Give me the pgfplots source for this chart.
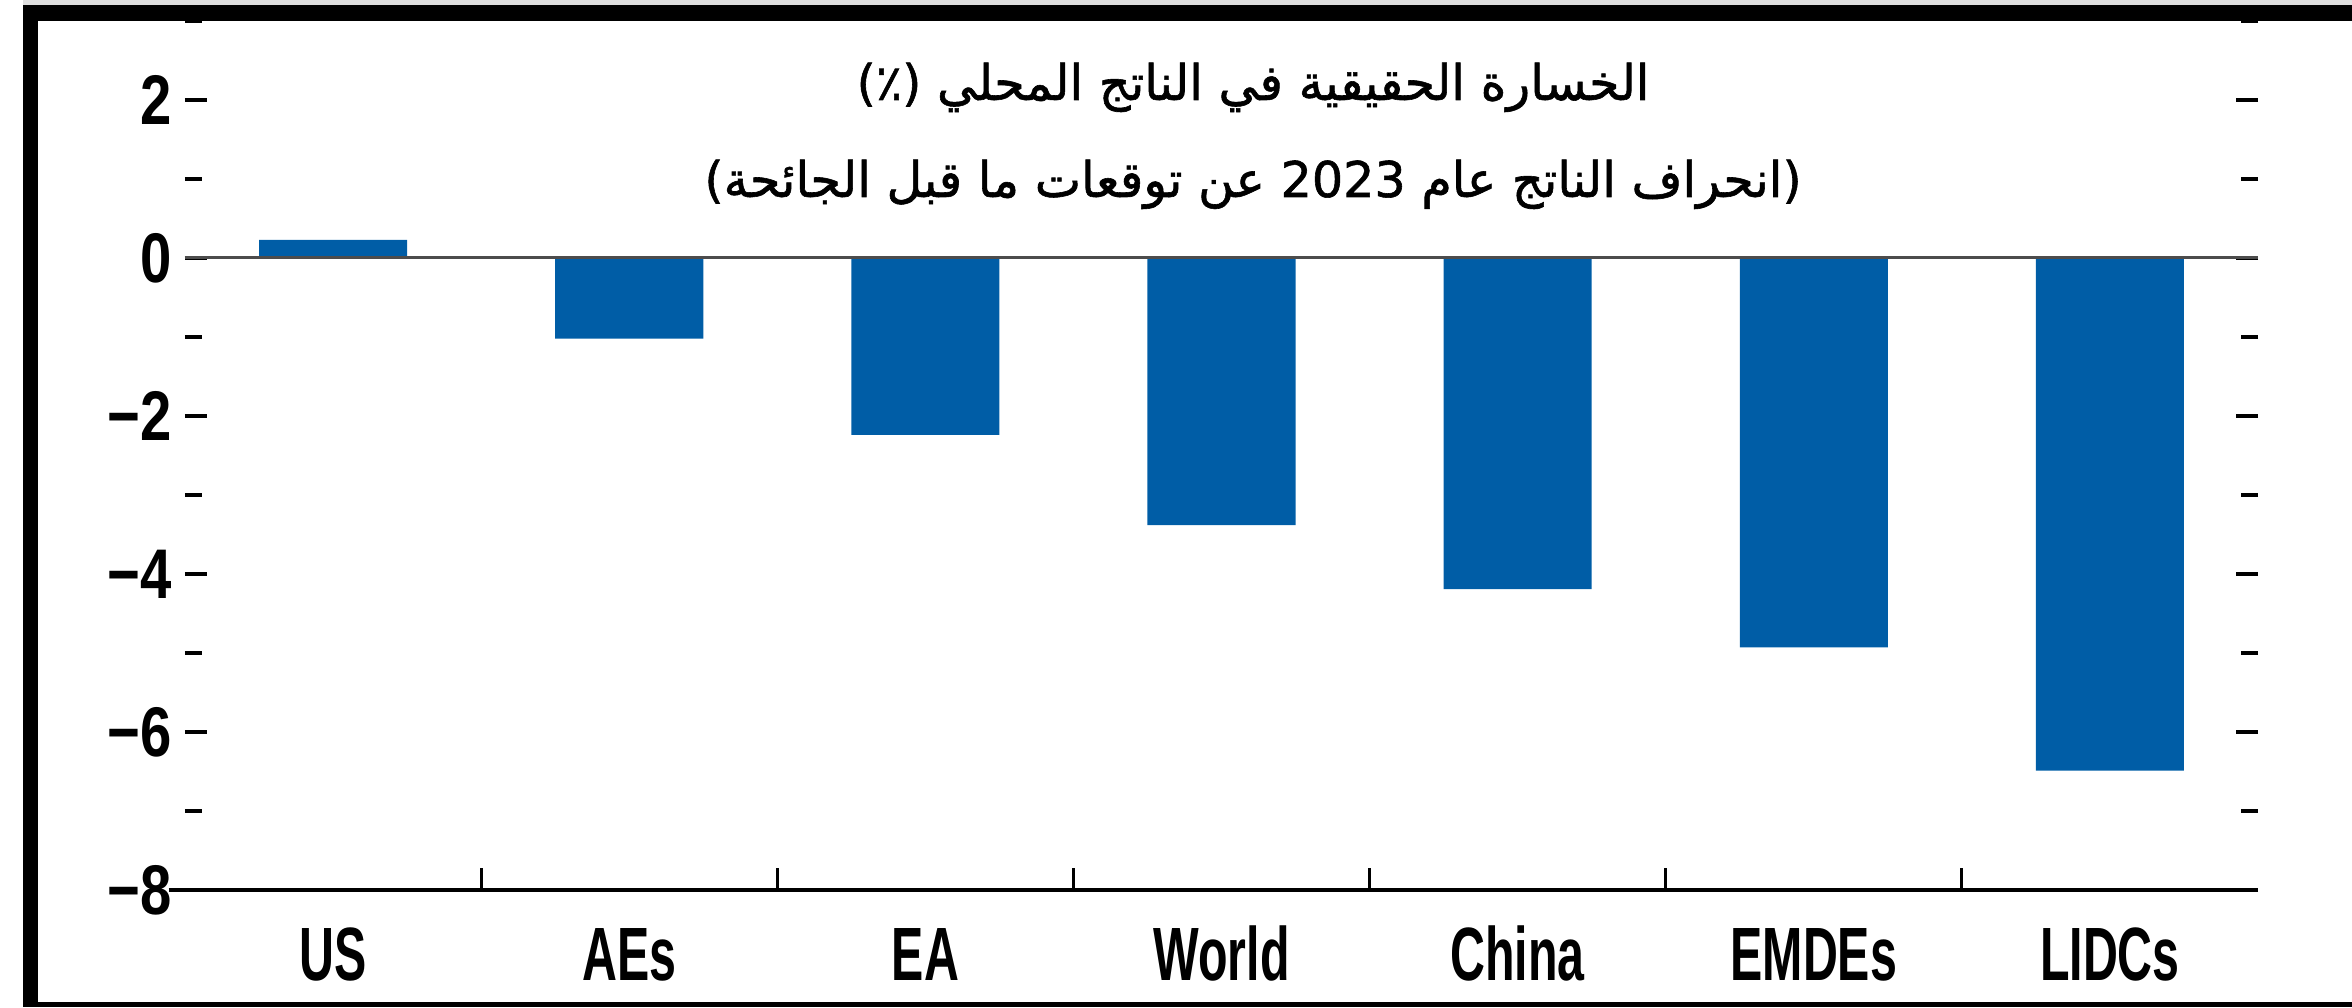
\documentclass[border=0pt]{standalone}
\usepackage{pgfplots}
\pgfplotsset{compat=1.18}
\usepackage{fontspec}
\setmainfont{Liberation Sans}
\newfontfamily\xlabfont{Liberation Sans Bold}[FakeStretch=0.64]
\newfontfamily\ylabfont{Liberation Sans Bold}[FakeStretch=0.8]
\newfontfamily\arabicfont[Script=Arabic, FakeBold=1.2]{DejaVu Sans}
\TeXXeTstate=1
\definecolor{barblue}{RGB}{0,93,166}

\begin{document}
\begin{tikzpicture}
\useasboundingbox (0,0) rectangle (23.52,10.07);
\begin{axis}[
  at={(1.85cm,1.17cm)}, anchor=south west,
  scale only axis, width=20.73cm, height=8.69cm,
  xmin=-0.5, xmax=6.5, ymin=-8, ymax=3,
  axis line style={draw=none},
  tick align=inside,
  xtick pos=left, ytick pos=both,
  xtick={0.5,1.5,2.5,3.5,4.5,5.5}, xticklabels={},
  extra x ticks={0,1,2,3,4,5,6},
  extra x tick labels={US,AEs,EA,World,China,EMDEs,LIDCs},
  extra x tick style={major tick length=0pt, tick style={draw=none}},
  ytick={-8,-6,-4,-2,0,2},
  yticklabels={−8,−6,−4,−2,0,2},
  minor ytick={-7,-5,-3,-1,1,3},
  major tick length=0.22cm, minor tick length=0.17cm,
  every major x tick/.append style={line width=0.8pt, black},
  every major y tick/.append style={line width=1.4pt, black},
  every minor y tick/.append style={line width=1.4pt, black},
  x tick label style={font=\fontsize{21.5}{22}\xlabfont, anchor=base, yshift=-0.9cm, inner sep=0pt},
  y tick label style={font=\fontsize{20}{22}\ylabfont, anchor=east, inner sep=0pt, xshift=-0.13cm},
  clip=false,
]
\addplot[ybar, bar width=0.5, fill=barblue, draw=none] coordinates {(0,0.23) (1,-1.02) (2,-2.24) (3,-3.38) (4,-4.19) (5,-4.93) (6,-6.49)};
\draw[line width=0.85pt, black!70] (axis cs:-0.5,0) -- (axis cs:6.5,0);
\draw[line width=1.4pt] (axis cs:-0.555,-8) -- (axis cs:6.5,-8);
\end{axis}
\fill[gray!25] (0.23,10.02) rectangle (23.52,10.07);
\fill[black] (0.23,9.86) rectangle (23.52,10.02);
\fill[black] (0.23,0) rectangle (0.38,10.02);
\fill[black] (0.23,0) rectangle (23.52,0.05);
\node[anchor=base] at (12.53,9.07) {\arabicfont\fontsize{14}{18}\selectfont\beginR الخسارة الحقيقية في الناتج المحلي (٪)\endR};
\node[anchor=base] at (12.53,8.10) {\arabicfont\fontsize{14}{18}\selectfont\beginR (انحراف الناتج عام \beginL 2023\endL{} عن توقعات ما قبل الجائحة)\endR};
\end{tikzpicture}
\end{document}
